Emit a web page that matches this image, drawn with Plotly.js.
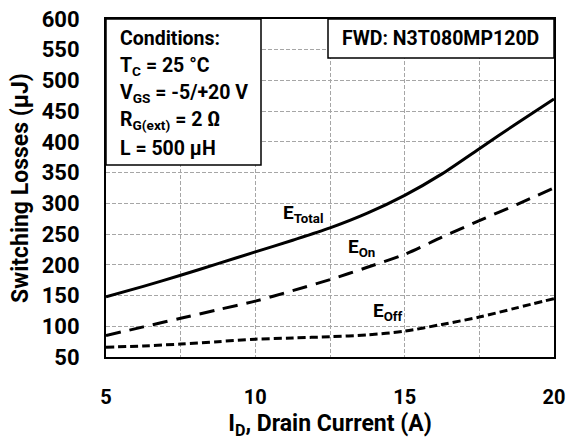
<!DOCTYPE html>
<html>
<head>
<meta charset="utf-8">
<script src="https://cdn.plot.ly/plotly-3.0.1.min.js"></script>
<style>
  html, body { margin: 0; padding: 0; background: #fff; }
  #chart { width: 568px; height: 440px; }
</style>
</head>
<body>
<div id="chart"></div>
<script>
// Drain current (A)
const drainCurrent = [5, 6.25, 7.5, 8.75, 10, 11.25, 12.5, 13.75, 15, 16.25, 17.5, 18.75, 20];
// Switching energies (µJ)
const eTotal = [148, 165, 183, 202, 221, 240, 260, 284, 313, 348, 389, 430, 470];
const eOn    = [85, 99, 113, 127, 141, 158, 176, 196, 217, 245, 272, 298, 325];
const eOff   = [66, 68, 71, 75, 79, 81, 83, 86, 92, 103, 115, 130, 145];

const xTickVals = [5, 7.5, 10, 12.5, 15, 17.5, 20];
const xTickText = ['5', '', '10', '', '15', '', '20'];

const conditionLines = [
  'Conditions:',
  'T<sub>C</sub> = 25 °C',
  'V<sub>GS</sub> = -5/+20 V',
  'R<sub>G(ext)</sub> = 2 Ω',
  'L = 500 µH'
];
const fwdLabel = 'FWD: N3T080MP120D';

const FONT = 'Roboto, "Open Sans", Arial, sans-serif';

function curve(y, dash) {
  return {
    x: drainCurrent, y: y, type: 'scatter', mode: 'lines',
    line: { color: '#000', width: 3, dash: dash, shape: 'spline', smoothing: 0.8 },
    hoverinfo: 'skip', showlegend: false
  };
}

const traces = [
  curve(eTotal, 'solid'),
  curve(eOn, '15px,9px'),
  curve(eOff, '8px,4px')
];

const annotations = [];
// condition text lines, top to bottom
const condTop = 39, condStep = 27.3;
conditionLines.forEach((t, i) => {
  const py = condTop + i * condStep;
  annotations.push({
    xref: 'paper', yref: 'paper', x: (118 - 106) / 448, y: (357 - py) / 338,
    xanchor: 'left', yanchor: 'middle', showarrow: false, text: t,
    font: { family: FONT, size: 19.5, color: '#000', weight: 700 }
  });
});
annotations.push({
  xref: 'paper', yref: 'paper', x: (440 - 106) / 448, y: (357 - 39) / 338,
  xanchor: 'center', yanchor: 'middle', showarrow: false, text: fwdLabel,
  font: { family: FONT, size: 19.5, color: '#000', weight: 700 }
});
// curve labels
const curveLabels = [
  { text: 'E<sub>Total</sub>', x: 11.6, y: 284 },
  { text: 'E<sub>On</sub>', x: 13.54, y: 229 },
  { text: 'E<sub>Off</sub>', x: 14.44, y: 124 }
];
curveLabels.forEach(l => annotations.push({
  xref: 'x', yref: 'y', x: l.x, y: l.y, xanchor: 'center', yanchor: 'middle',
  showarrow: false, text: l.text,
  font: { family: FONT, size: 19, color: '#000', weight: 700 }
}));

const layout = {
  width: 568, height: 440,
  margin: { l: 106, r: 14, t: 19, b: 83 },
  paper_bgcolor: '#fff', plot_bgcolor: '#fff',
  font: { family: FONT, color: '#000' },
  xaxis: {
    range: [5, 20], tickvals: xTickVals, ticktext: xTickText,
    showgrid: true, gridcolor: '#a6a6a6', gridwidth: 1, griddash: '4px,2px',
    showline: true, linecolor: '#000', linewidth: 2, mirror: true,
    zeroline: false, ticks: '', ticklabelstandoff: 21,
    tickfont: { family: FONT, size: 20, weight: 700, color: '#000' },
    title: { text: 'I<sub>D</sub>, Drain Current (A)', standoff: 10,
             font: { family: FONT, size: 23, weight: 700, color: '#000' } },
    automargin: false, fixedrange: true
  },
  yaxis: {
    range: [50, 600], dtick: 50, tick0: 50,
    showgrid: true, gridcolor: '#a6a6a6', gridwidth: 1, griddash: '4px,2px',
    showline: true, linecolor: '#000', linewidth: 2, mirror: true,
    zeroline: false, ticks: '', ticklabelstandoff: 20,
    tickfont: { family: FONT, size: 22, weight: 700, color: '#000' },
    title: { text: 'Switching Losses (µJ)', standoff: 7,
             font: { family: FONT, size: 23, weight: 700, color: '#000' } },
    automargin: false, fixedrange: true
  },
  shapes: [
    { type: 'rect', xref: 'paper', yref: 'paper', layer: 'above',
      x0: 0, x1: (261 - 106) / 448, y0: (357 - 165) / 338, y1: 1,
      fillcolor: '#fff', line: { color: '#000', width: 1.5 } },
    { type: 'rect', xref: 'paper', yref: 'paper', layer: 'above',
      x0: (328 - 106) / 448, x1: 1, y0: (357 - 58) / 338, y1: 1,
      fillcolor: '#fff', line: { color: '#000', width: 1.5 } }
  ],
  annotations: annotations,
  showlegend: false
};

Plotly.newPlot('chart', traces, layout, { displayModeBar: false, staticPlot: true });
</script>
</body>
</html>
